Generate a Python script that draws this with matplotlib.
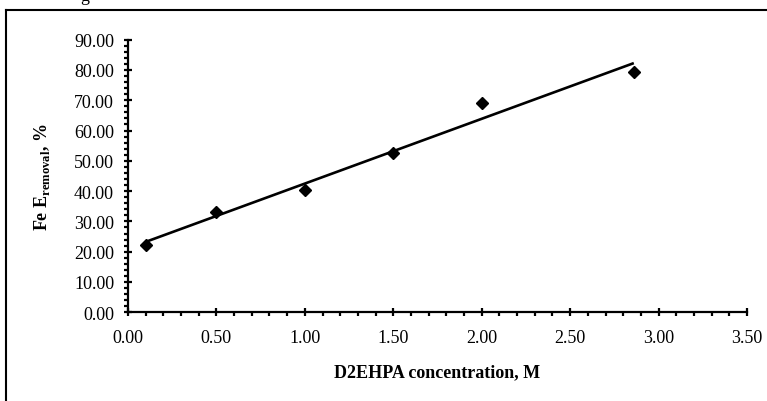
import numpy as np
import matplotlib
matplotlib.use('Agg')
import matplotlib.pyplot as plt
from matplotlib.lines import Line2D
from matplotlib.ticker import MultipleLocator, FormatStrFormatter

# D2EHPA concentration (M) vs. Fe removal efficiency (%)
conc = [0.10, 0.50, 1.00, 1.50, 2.00, 2.86]
fe_removal = [22.2, 33.0, 40.5, 52.6, 69.1, 79.4]

W, H = 767, 402
DPI = 100
FONT = 'Liberation Serif'
FONT_SIZE = 13

plt.rcParams['font.family'] = FONT
plt.rcParams['mathtext.fontset'] = 'custom'
plt.rcParams['mathtext.rm'] = FONT
plt.rcParams['mathtext.bf'] = FONT + ':bold'


def px_x(x):
    return x / W


def px_y(y):
    return 1 - y / H


fig = plt.figure(figsize=(W / DPI, H / DPI), dpi=DPI)
ax = fig.add_axes([px_x(128), px_y(313.3), px_x(747 - 128), (313.3 - 40.6) / H])

ax.plot(conc, fe_removal, linestyle='none', marker='D', markersize=6.5,
        color='black', zorder=3)

# linear trend line across the measured range
slope, intercept = np.polyfit(conc, fe_removal, 1)
xs = np.array([conc[0], conc[-1]])
ax.plot(xs, slope * xs + intercept, color='black', linewidth=1.9,
        solid_capstyle='butt', zorder=2)

ax.set_xlim(0, 3.5)
ax.set_ylim(0, 90)
ax.xaxis.set_major_locator(MultipleLocator(0.5))
ax.xaxis.set_minor_locator(MultipleLocator(0.1))
ax.yaxis.set_major_locator(MultipleLocator(10))
ax.yaxis.set_minor_locator(MultipleLocator(2))
ax.xaxis.set_major_formatter(FormatStrFormatter('%.2f'))
ax.yaxis.set_major_formatter(FormatStrFormatter('%.2f'))

for side in ('top', 'right'):
    ax.spines[side].set_visible(False)
for side in ('left', 'bottom'):
    ax.spines[side].set_linewidth(1.6)

ax.tick_params(which='major', direction='inout', length=6, width=1.6,
               labelsize=FONT_SIZE)
ax.tick_params(which='minor', direction='out', length=2.8, width=1.6)
ax.tick_params(axis='x', which='major', pad=9)
ax.tick_params(axis='y', which='major', pad=7)

ax.set_xlabel('D2EHPA concentration, M', fontsize=FONT_SIZE, fontweight='bold')
ax.xaxis.set_label_coords(0.5, (313.3 - 373) / (313.3 - 40.6) , transform=ax.transAxes)
ax.xaxis.label.set_verticalalignment('center')
ax.set_ylabel(r'Fe E$_{\mathbf{removal}}$, %', fontsize=FONT_SIZE, fontweight='bold')
ax.yaxis.set_label_coords((42 - 128) / (747 - 128), 0.5, transform=ax.transAxes)
ax.yaxis.label.set_verticalalignment('center')

# outer frame of the chart area (top and left edges)
frame = dict(color='black', linewidth=1.5, transform=fig.transFigure)
fig.add_artist(Line2D([px_x(6), 1.0], [px_y(11), px_y(11)], **frame))
fig.add_artist(Line2D([px_x(6), px_x(6)], [px_y(11), 0.0], **frame))

# bits of the caption line above the chart
fig.text(px_x(80), px_y(1), 'g', fontsize=FONT_SIZE, va='baseline')
fig.text(px_x(640), px_y(-1), 'Removal', fontsize=9, va='baseline')

fig.savefig('out.png', dpi=DPI, facecolor='white')
